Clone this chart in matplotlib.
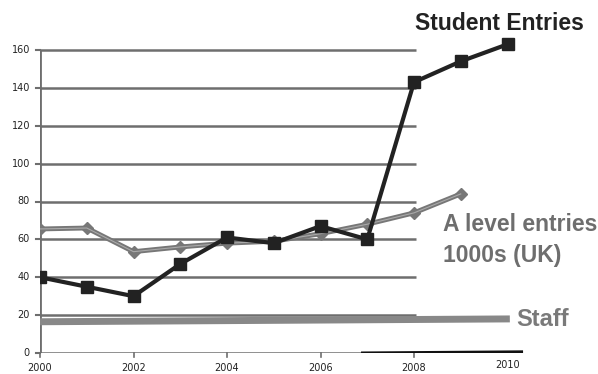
import matplotlib
matplotlib.use("Agg")
import matplotlib.pyplot as plt

# Series values
years = [2000, 2001, 2002, 2003, 2004, 2005, 2006, 2007, 2008, 2009, 2010]
student_entries = [40, 35, 30, 47, 61, 58, 67, 60, 143, 154, 163]

alevel_years = [2000, 2001, 2002, 2003, 2004, 2005, 2006, 2007, 2008, 2009]
alevel_entries = [65.5, 66, 53.5, 56, 58, 59, 63, 68, 74, 84]

staff_years = [2000, 2010.05]
staff = [16.5, 18]

base_years = [2006.9, 2010.3]
base_values = [0.0, 0.6]

y_ticks = [0, 20, 40, 60, 80, 100, 120, 140, 160]
x_ticks = [2000, 2002, 2004, 2006, 2008, 2010]

plt.rcParams['font.family'] = ['DejaVu Sans']

fig = plt.figure(figsize=(5.98, 3.74), dpi=100)
W, H = 598, 374
x0_px, y0_px = 40, 353
px_per_year = (414 - 40) / 8.0
px_per_unit = (353 - 50) / 160.0
xmax = 2000 + (W - x0_px) / px_per_year
ymax = y0_px / px_per_unit
ax = fig.add_axes([x0_px / W, (H - y0_px) / H, 1 - x0_px / W, y0_px / H])
ax.set_xlim(2000, xmax)
ax.set_ylim(0, ymax)
ax.axis('off')

grid_col = '#6e6e6e'
# horizontal gridlines, ending at 2008
for v in y_ticks[1:]:
    ax.plot([2000, 2008.05], [v, v], color=grid_col, lw=1.8, zorder=1,
            solid_capstyle='butt')
# axes lines
ax.plot([2000, 2008.1], [0, 0], color=grid_col, lw=1.8, zorder=1, solid_capstyle='butt')
ax.plot([2000, 2000], [0, 160], color=grid_col, lw=2, zorder=1, solid_capstyle='butt')

# ticks and tick labels
tick_dx = 4 / px_per_year
tick_dy = 4 / px_per_unit
for v in y_ticks:
    ax.plot([2000 - tick_dx, 2000], [v, v], color=grid_col, lw=1.5, clip_on=False)
    ax.text(2000 - 10 / px_per_year, v, str(v), ha='right', va='center',
            fontsize=7, color='#222222')
for yr in x_ticks:
    if yr <= 2008:
        ax.plot([yr, yr], [0, -tick_dy], color=grid_col, lw=1.2, clip_on=False)
    dy = 15 if yr < 2010 else 12
    ax.text(yr, -dy / px_per_unit, str(yr), ha='center', va='center',
            fontsize=7, color='#222222', clip_on=False)

# staff line
ax.plot(staff_years, staff, color='#888888', lw=5, zorder=2, solid_capstyle='butt')
# near-zero line
ax.plot(base_years, base_values, color='#111111', lw=2.2, zorder=2)

# A level entries
ax.plot(alevel_years, alevel_entries, color='#777777', lw=3.5, marker='D',
        markersize=6, markeredgecolor='#777777', zorder=3)
ax.plot(alevel_years, alevel_entries, color='#aaaaaa', lw=0.8, zorder=3)

# Student entries
ax.plot(years, student_entries, color='#222222', lw=3, marker='s',
        markersize=8, zorder=4)

# labels
def px_to_data(px, py):
    return 2000 + (px - x0_px) / px_per_year, (y0_px - py) / px_per_unit

tx, ty = px_to_data(415, 23)
ax.text(tx, ty, 'Student Entries', fontsize=16.5, fontweight='bold',
        family='Liberation Sans', color='#222222', ha='left', va='center')
tx, ty = px_to_data(443, 240)
ax.text(tx, ty, 'A level entries\n1000s (UK)', fontsize=16.5, fontweight='bold',
        family='Liberation Sans', color='#6e6e6e', ha='left', va='center',
        linespacing=1.45)
tx, ty = px_to_data(516, 320)
ax.text(tx, ty, 'Staff', fontsize=17, fontweight='bold',
        family='Liberation Sans', color='#7a7a7a', ha='left', va='center')

fig.savefig('out.png', dpi=100)
